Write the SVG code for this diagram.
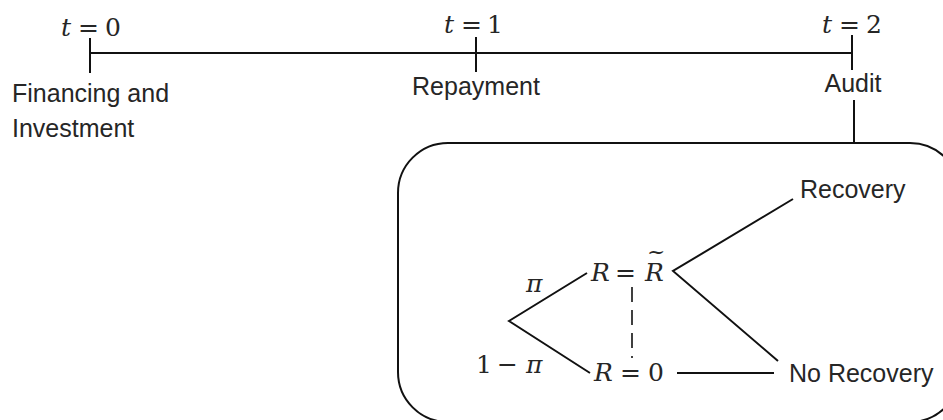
<svg xmlns="http://www.w3.org/2000/svg" width="943" height="420" viewBox="0 0 943 420">
<style>
.ln{stroke:#111;stroke-width:2;fill:none;stroke-linecap:butt}
.lbl{font-family:"Liberation Sans",Arial,sans-serif;font-size:25px;fill:#262626}
.m{font-family:"DejaVu Serif","Liberation Serif",serif;font-size:25px;fill:#262626}
.i{font-style:italic}
</style>
<rect width="943" height="420" fill="#fff"/>
<g id="timeline">
<line class="ln" x1="91" y1="53" x2="852" y2="53"/>
</g>
<g id="t0">
<line class="ln" x1="90" y1="38" x2="90" y2="73"/>
<text class="m" y="36"><tspan class="i" x="61">t</tspan><tspan x="78">=</tspan><tspan x="105">0</tspan></text>
<text class="lbl" x="12" y="102">Financing and</text>
<text class="lbl" x="12" y="137">Investment</text>
</g>
<g id="t1">
<line class="ln" x1="476" y1="37" x2="476" y2="72"/>
<text class="m" y="33"><tspan class="i" x="444">t</tspan><tspan x="461">=</tspan><tspan x="487">1</tspan></text>
<text class="lbl" x="476" y="95" text-anchor="middle">Repayment</text>
</g>
<g id="t2">
<line class="ln" x1="852" y1="35" x2="852" y2="70"/>
<text class="m" y="33"><tspan class="i" x="822">t</tspan><tspan x="839">=</tspan><tspan x="866">2</tspan></text>
<text class="lbl" x="853" y="92" text-anchor="middle">Audit</text>
</g>
<g id="audit-box">
<rect class="ln" x="398" y="143" width="562" height="279" rx="50" ry="50"/>
</g>
<g id="connectors">
<line class="ln" x1="854" y1="100" x2="854" y2="143"/>
<polyline class="ln" points="587,273 509,321 590,373"/>
<line class="ln" x1="632" y1="287" x2="632" y2="358" stroke-dasharray="15 8" style="stroke-width:1.6"/>
<polyline class="ln" points="793,199 673,271 778,361"/>
<line class="ln" x1="677" y1="373" x2="774" y2="373"/>
</g>
<g id="probs">
<text class="m" y="292"><tspan class="i" x="526">π</tspan></text>
<text class="m" y="373"><tspan x="476">1</tspan><tspan x="497">−</tspan><tspan class="i" x="526">π</tspan></text>
</g>
<g id="node-Rtilde">
<text class="m" y="281"><tspan class="i" x="591">R</tspan><tspan x="615">=</tspan><tspan class="i" x="645">R</tspan><tspan x="647" y="259" style="font-size:22px">~</tspan></text>
</g>
<g id="node-R0">
<text class="m" y="381"><tspan class="i" x="594">R</tspan><tspan x="620">=</tspan><tspan x="648">0</tspan></text>
</g>
<g id="node-recovery">
<text class="lbl" x="800" y="198">Recovery</text>
</g>
<g id="node-norecovery">
<text class="lbl" x="789" y="382">No Recovery</text>
</g>
</svg>
